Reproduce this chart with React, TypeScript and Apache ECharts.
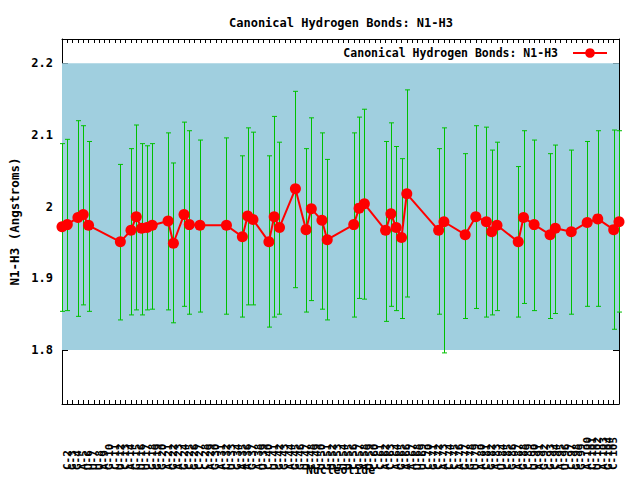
import React, { useEffect, useRef } from "react";
import * as echarts from "echarts";

const chartTitle = "Canonical Hydrogen Bonds: N1-H3";
const xAxisName = "Nucleotide";
const yAxisName = "N1-H3 (Angstroms)";

const bases = "GCGGAUUUAGCUCAGUUGGGAGAGCGCCAGACUGAAGAUCUGGAGGUCCUGUGUUCGAUCCACAGAAUUCGCACCAGGUACGAUCGAGCUAGGCAUCGGACUAGCC".split("");
const nucleotideLabels = bases.slice(0, 106).map((b, i) => `${b}-${i + 1}`);

const positions = [1, 2, 4, 5, 6, 12, 14, 15, 16, 17, 18, 21, 22, 24, 25, 27, 32, 35, 36, 37, 40, 41, 42, 45, 47, 48, 50, 51, 56, 57, 58, 62, 63, 64, 65, 66, 72, 73, 77, 79, 81, 82, 83, 87, 88, 90, 93, 94, 97, 100, 102, 105, 106];
const meanValues = [1.972, 1.975, 1.985, 1.989, 1.974, 1.951, 1.967, 1.986, 1.970, 1.971, 1.974, 1.980, 1.949, 1.989, 1.975, 1.974, 1.974, 1.958, 1.987, 1.982, 1.951, 1.986, 1.971, 2.025, 1.968, 1.997, 1.981, 1.954, 1.975, 1.998, 2.004, 1.967, 1.990, 1.971, 1.957, 2.018, 1.967, 1.979, 1.961, 1.986, 1.979, 1.965, 1.974, 1.951, 1.985, 1.975, 1.961, 1.970, 1.965, 1.978, 1.983, 1.968, 1.979];
const lowValues = [1.854, 1.855, 1.847, 1.863, 1.854, 1.842, 1.849, 1.856, 1.849, 1.856, 1.857, 1.856, 1.838, 1.861, 1.850, 1.853, 1.850, 1.846, 1.863, 1.863, 1.832, 1.846, 1.850, 1.887, 1.853, 1.869, 1.857, 1.842, 1.846, 1.872, 1.871, 1.840, 1.861, 1.855, 1.844, 1.874, 1.850, 1.796, 1.844, 1.858, 1.846, 1.849, 1.855, 1.846, 1.865, 1.855, 1.844, 1.851, 1.850, 1.861, 1.861, 1.829, 1.853];
const highValues = [2.088, 2.094, 2.120, 2.113, 2.091, 2.059, 2.081, 2.114, 2.088, 2.085, 2.088, 2.103, 2.061, 2.118, 2.106, 2.093, 2.096, 2.071, 2.110, 2.104, 2.071, 2.126, 2.090, 2.161, 2.081, 2.124, 2.103, 2.066, 2.103, 2.125, 2.136, 2.091, 2.117, 2.084, 2.067, 2.163, 2.081, 2.110, 2.074, 2.113, 2.111, 2.079, 2.090, 2.056, 2.106, 2.093, 2.074, 2.086, 2.079, 2.091, 2.106, 2.107, 2.106];

const yTicks = [1.8, 1.9, 2, 2.1, 2.2];
const bandRange = [1.8, 2.2];
const xRange = [1, 106];
const yRange = [1.7247, 2.234];

export default function App() {
  const ref = useRef<HTMLDivElement>(null);
  useEffect(() => {
    const chart = echarts.init(ref.current!, null, { renderer: "svg" });
    const font = "'DejaVu Sans Mono', 'Liberation Mono', monospace";
    const axisLine = { show: true, onZero: false, lineStyle: { color: "#000", width: 1 } };
    const xTick = { show: true, inside: true, length: 4, lineStyle: { color: "#000", width: 1 } };
    const yTick = { show: true, inside: true, length: 6, customValues: yTicks, lineStyle: { color: "#000", width: 1 } };

    const renderItem = (params: any, api: any) => {
      const x = api.value(0);
      const lo = api.coord([x, api.value(1)]);
      const hi = api.coord([x, api.value(2)]);
      const px = Math.round(lo[0]) + 0.5;
      const style = { stroke: "#00c000", lineWidth: 1 };
      return {
        type: "group",
        children: [
          { type: "line", shape: { x1: px, y1: lo[1], x2: px, y2: hi[1] }, style },
          { type: "line", shape: { x1: px - 2.5, y1: lo[1], x2: px + 2.5, y2: lo[1] }, style },
          { type: "line", shape: { x1: px - 2.5, y1: hi[1], x2: px + 2.5, y2: hi[1] }, style },
        ],
      };
    };

    chart.setOption({
      animation: false,
      backgroundColor: "#fff",
      title: {
        text: chartTitle,
        left: 224,
        top: 12,
        textStyle: { fontFamily: font, fontSize: 12, fontWeight: "bold", color: "#000" },
      },
      legend: {
        right: 27,
        top: 42,
        align: "right",
        itemWidth: 34,
        itemHeight: 12,
        data: [chartTitle],
        textStyle: { fontFamily: font, fontSize: 11.5, fontWeight: "bold", color: "#000", padding: [0, 10, 0, 0] },
      },
      grid: { left: 62, right: 21, top: 39, bottom: 76, containLabel: false, outerBoundsMode: "none" },
      xAxis: [
        {
          type: "value",
          min: xRange[0],
          max: xRange[1],
          interval: 1,
          position: "bottom",
          name: xAxisName,
          nameLocation: "middle",
          nameGap: 60,
          nameMoveOverlap: false,
          nameTextStyle: { fontFamily: font, fontSize: 11.5, fontWeight: "bold", color: "#000" },
          axisLine,
          axisTick: xTick,
          axisLabel: {
            rotate: 90,
            margin: 66,
            align: "left",
            verticalAlign: "middle",
            fontFamily: font,
            fontSize: 11,
            fontWeight: "bold",
            color: "#000",
            formatter: (v: number) => nucleotideLabels[Math.round(v) - 1] ?? "",
          },
          splitLine: { show: false },
        },
        {
          type: "value",
          min: xRange[0],
          max: xRange[1],
          interval: 1,
          position: "top",
          axisLine,
          axisTick: xTick,
          axisLabel: { show: false },
          splitLine: { show: false },
        },
      ],
      yAxis: [
        {
          type: "value",
          min: yRange[0],
          max: yRange[1],
          position: "left",
          name: yAxisName,
          nameLocation: "middle",
          nameGap: 41,
          nameRotate: 90,
          nameMoveOverlap: false,
          nameTextStyle: { fontFamily: font, fontSize: 12.5, fontWeight: "bold", color: "#000" },
          axisLine,
          axisTick: yTick,
          axisLabel: {
            customValues: yTicks,
            formatter: (v: number) => String(Math.round(v * 10) / 10),
            margin: 9,
            fontFamily: font,
            fontSize: 12,
            fontWeight: "bold",
            color: "#000",
          },
          splitLine: { show: false },
        },
        {
          type: "value",
          min: yRange[0],
          max: yRange[1],
          position: "right",
          axisLine,
          axisTick: yTick,
          axisLabel: { show: false },
          splitLine: { show: false },
        },
      ],
      series: [
        {
          type: "line",
          name: "band",
          data: [],
          z: 1,
          markArea: {
            silent: true,
            itemStyle: { color: "#a0cfdf" },
            data: [[{ yAxis: bandRange[0] }, { yAxis: bandRange[1] }]],
          },
        },
        {
          type: "custom",
          name: "errors",
          z: 2,
          renderItem,
          encode: { x: 0, y: [1, 2] },
          data: positions.map((p, i) => [p, lowValues[i], highValues[i]]),
        },
        {
          type: "line",
          name: chartTitle,
          z: 3,
          symbol: "circle",
          symbolSize: 11,
          data: positions.map((p, i) => [p, meanValues[i]]),
          lineStyle: { color: "#ff0000", width: 2 },
          itemStyle: { color: "#ff0000" },
        },
      ],
    });
    return () => chart.dispose();
  }, []);
  return <div ref={ref} style={{ position: "fixed", left: 0, top: 0, width: 640, height: 480 }} />;
}
